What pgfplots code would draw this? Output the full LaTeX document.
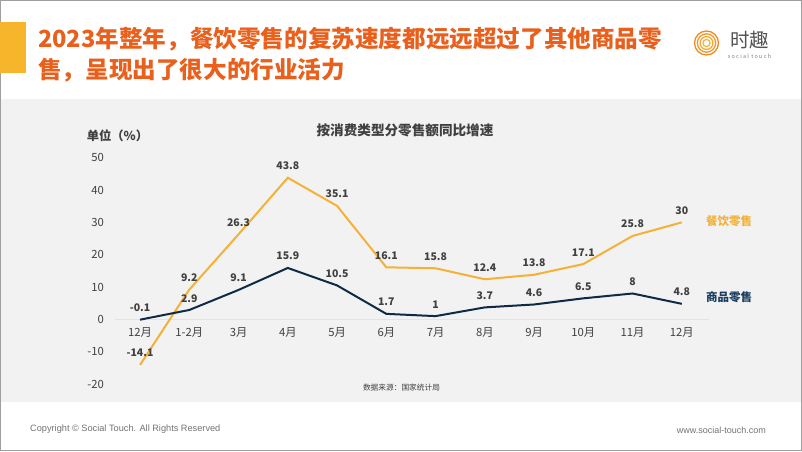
\documentclass[border=0pt]{standalone}
\usepackage{fontspec}
\setmainfont{Noto Sans CJK SC}
\newfontfamily\arialf{Liberation Sans}
\usepackage{pgfplots}
\usepackage{pgfplotstable}
\pgfplotsset{compat=1.18}
\definecolor{titleor}{HTML}{E8601C}
\definecolor{baror}{HTML}{F7B52C}
\definecolor{foodc}{HTML}{F4B136}
\definecolor{goodc}{HTML}{0F2A44}
\definecolor{goodtxt}{HTML}{1A3D5F}
\definecolor{panel}{HTML}{F2F2F2}
\definecolor{txtgray}{HTML}{404040}

\pgfplotstableread{
x y
0 -14.1
1 9.2
2 26.3
3 43.8
4 35.1
5 16.1
6 15.8
7 12.4
8 13.8
9 17.1
10 25.8
11 30
}\food
\pgfplotstableread{
x y
0 -0.1
1 2.9
2 9.1
3 15.9
4 10.5
5 1.7
6 1
7 3.7
8 4.6
9 6.5
10 8
11 4.8
}\goods

\begin{document}
\begin{tikzpicture}
\useasboundingbox (0pt,0pt) rectangle (802pt,-451pt);
\fill[white] (0pt,0pt) rectangle (802pt,-451pt);
\fill[panel] (0pt,-99pt) rectangle (802pt,-402pt);
\draw[gray!75, line width=1.2pt] (0.6pt,-0.6pt) rectangle (801.4pt,-450.4pt);
% orange bar
\fill[baror] (0pt,-22pt) rectangle (26pt,-73pt);
% title
\node[anchor=west, inner sep=0pt, text=titleor, font=\fontsize{23.6}{26}\selectfont\bfseries] at (38pt,-39.5pt) {2023年整年，餐饮零售的复苏速度都远远超过了其他商品零};
\node[anchor=west, inner sep=0pt, text=titleor, font=\fontsize{23.6}{26}\selectfont\bfseries] at (38pt,-70.5pt) {售，呈现出了很大的行业活力};
% logo
\foreach \r/\c in {12/F08A24,9.2/F39A2C,6.4/F5A834,3.6/F7B53C}{
  \definecolor{tmpc}{HTML}{\c}
  \draw[tmpc, line width=1.3pt] (706.5pt,-43pt) circle (\r pt);
}
\node[inner sep=0pt, text=txtgray!90, font=\fontsize{19.5}{20}\selectfont] at (749.5pt,-40.5pt) {时趣};
\node[inner sep=0pt, text=gray, font=\fontsize{5.5}{6}\selectfont] at (749.5pt,-56pt) {s o c i a l\ \ t o u c h};
% chart texts
\node[inner sep=0pt, text=txtgray, font=\fontsize{12.3}{14}\selectfont\bfseries] at (117.5pt,-136pt) {单位（\%）};
\node[inner sep=0pt, text=txtgray, font=\fontsize{13.6}{15}\selectfont\bfseries] at (405pt,-130pt) {按消费类型分零售额同比增速};
\node[inner sep=0pt, text=txtgray, font=\fontsize{7.7}{9}\selectfont] at (401.5pt,-388pt) {数据来源：国家统计局};
\node[anchor=west, inner sep=0pt, text=foodc, font=\fontsize{11.5}{13}\selectfont\bfseries] at (706pt,-221.5pt) {餐饮零售};
\node[anchor=west, inner sep=0pt, text=goodtxt, font=\fontsize{11.5}{13}\selectfont\bfseries] at (706pt,-297pt) {商品零售};
% footer
\node[anchor=west, inner sep=0pt, text=gray!90!black, font=\arialf\fontsize{9.2}{10}\selectfont] at (30pt,-429pt) {Copyright © Social Touch. All Rights Reserved};
\node[anchor=east, inner sep=0pt, text=gray!90!black, font=\arialf\fontsize{9}{10}\selectfont] at (766pt,-430pt) {www.social-touch.com};

\begin{axis}[
  at={(115.4pt,-384pt)}, anchor=south west,
  scale only axis, width=593.5pt, height=226.3pt,
  xmin=-0.5, xmax=11.55, ymin=-20, ymax=50,
  axis x line=middle, axis y line=left,
  axis line style={-},
  x axis line style={draw=gray!22, line width=0.8pt},
  y axis line style={draw=none},
  major tick length=0pt,
  xtick={0,...,11},
  xticklabels={12月,1-2月,3月,4月,5月,6月,7月,8月,9月,10月,11月,12月},
  ytick={-20,-10,0,10,20,30,40,50},
  /pgf/number format/assume math mode=true,
  tick label style={font=\fontsize{11.3}{13}\selectfont, text=txtgray},
  xticklabel style={anchor=north, yshift=-5pt},
  yticklabel style={anchor=east, xshift=-8pt},
  clip=false,
  nodes near coords,
  every node near coord/.append style={font=\fontsize{10.5}{12}\selectfont\bfseries, text=txtgray, yshift=3.5pt},
  point meta=explicit symbolic,
]
\addplot[foodc, line width=2pt, mark=none] table[x=x, y=y, meta=y] {\food};
\addplot[goodc, line width=2pt, mark=none] table[x=x, y=y, meta=y] {\goods};
\end{axis}
\end{tikzpicture}
\end{document}
